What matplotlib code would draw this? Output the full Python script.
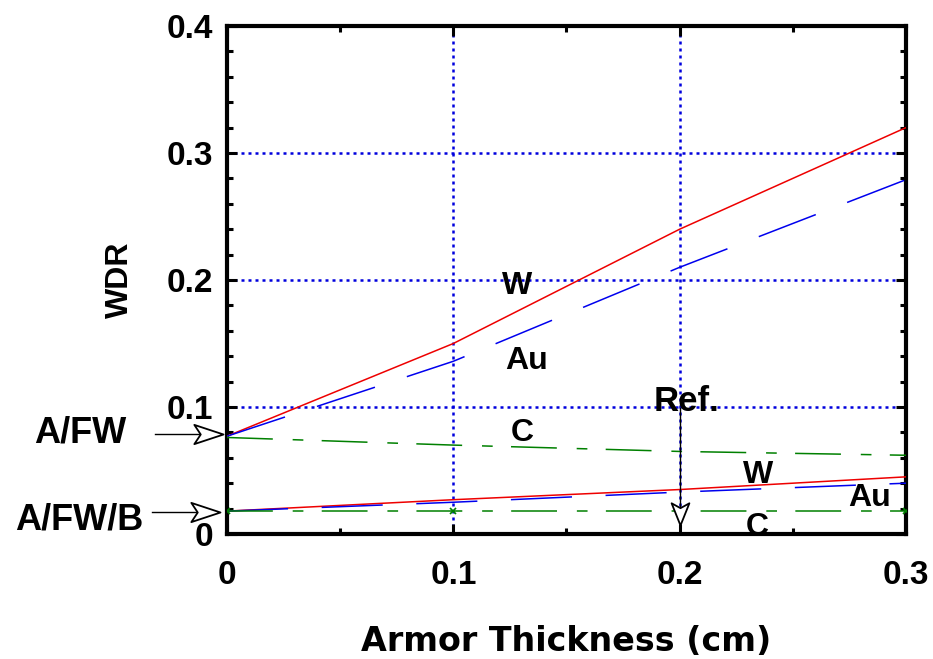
import matplotlib.pyplot as plt
from matplotlib.ticker import MultipleLocator
from matplotlib.path import Path

plt.rcParams['font.family'] = ['Liberation Sans', 'DejaVu Sans']
plt.rcParams['font.weight'] = 'bold'

thick = [0.0, 0.1, 0.2, 0.3]
# A/FW case
w_afw = [0.077, 0.150, 0.240, 0.320]
au_afw = [0.077, 0.136, 0.210, 0.279]
c_afw = [0.076, 0.070, 0.065, 0.062]
# A/FW/B case
w_afwb = [0.018, 0.027, 0.035, 0.045]
au_afwb = [0.018, 0.025, 0.033, 0.040]
c_afwb = [0.018, 0.018, 0.018, 0.018]

xticks = [0, 0.1, 0.2, 0.3]
xticklabels = ['0', '0.1', '0.2', '0.3']
yticks = [0, 0.1, 0.2, 0.3, 0.4]
yticklabels = ['0', '0.1', '0.2', '0.3', '0.4']

fig = plt.figure(figsize=(9.33, 6.59), dpi=100)
ax = fig.add_axes([0.2433, 0.1897, 0.7277, 0.7708])

# grid
for g in [0.1, 0.2]:
    ax.axvline(g, color='#0000dd', ls=(0, (1.2, 1.6)), lw=1.8, zorder=1)
for g in [0.1, 0.2, 0.3]:
    ax.axhline(g, color='#0000dd', ls=(0, (1.2, 1.6)), lw=1.8, zorder=1)

ax.plot(thick, w_afw, color='#ee0000', lw=1.1, zorder=3)
ax.plot(thick, au_afw, color='#0000ee', lw=1.1, dashes=(40, 22), zorder=3)
ax.plot(thick, c_afw, color='#008000', lw=1.1, dashes=(30, 13, 7, 12), zorder=3)
ax.plot(thick, w_afwb, color='#ee0000', lw=1.1, zorder=3)
ax.plot(thick, au_afwb, color='#0000ee', lw=1.1, dashes=(40, 22), zorder=3)
ax.plot(thick, c_afwb, color='#008000', lw=1.1, dashes=(30, 13, 7, 12),
        marker='x', ms=4, mew=1.2, zorder=3)

ax.set_xlim(0, 0.3)
ax.set_ylim(0, 0.4)
ax.set_xticks(xticks)
ax.set_xticklabels(xticklabels)
ax.set_yticks(yticks)
ax.set_yticklabels(yticklabels)
ax.xaxis.set_minor_locator(MultipleLocator(0.05))
ax.yaxis.set_minor_locator(MultipleLocator(0.02))
ax.tick_params(which='both', direction='in', top=True, right=True, width=2.2)
ax.tick_params(which='major', length=7, labelsize=24)
ax.tick_params(axis='y', which='major', pad=10)
ax.tick_params(axis='x', which='major', pad=19)
ax.tick_params(which='minor', length=4.5)
for s in ax.spines.values():
    s.set_linewidth(3)
for lab in ax.get_xticklabels() + ax.get_yticklabels():
    lab.set_fontweight('bold')

# the x title is drawn much wider than the rest of the text
ax.set_xlabel('Armor Thickness (cm)', fontsize=24, fontweight='bold',
              family='DejaVu Sans')
ax.set_ylabel('WDR', fontsize=23, fontweight='bold')
ax.xaxis.set_label_coords(0.5, -0.2126)
ax.xaxis.label.set_va('center')
ax.yaxis.set_label_coords(-0.1576, 0.5)
ax.yaxis.label.set_va('center')

# curve labels
fs = 23
ax.text(0.1281, 0.1949, 'W', fontsize=fs, ha='center', va='center')
ax.text(0.1325, 0.1362, 'Au', fontsize=fs, ha='center', va='center')
ax.text(0.1303, 0.0795, 'C', fontsize=fs, ha='center', va='center')
ax.text(0.2032, 0.1047, 'Ref.', fontsize=25, ha='center', va='center')
ax.text(0.2346, 0.0465, 'W', fontsize=fs, ha='center', va='center')
ax.text(0.2841, 0.0283, 'Au', fontsize=fs, ha='center', va='center')
ax.text(0.2342, 0.0055, 'C', fontsize=fs, ha='center', va='center', clip_on=False)

# notched open arrowheads, tip at the marker origin
right_head = Path([(0, 0), (-1, 0.33), (-0.78, 0), (-1, -0.33), (0, 0)],
                  [Path.MOVETO, Path.LINETO, Path.LINETO, Path.LINETO, Path.CLOSEPOLY])
down_head = Path([(0, 0), (-0.4, 1), (0, 0.78), (0.4, 1), (0, 0)],
                 [Path.MOVETO, Path.LINETO, Path.LINETO, Path.LINETO, Path.CLOSEPOLY])

ax.plot([-0.032, -0.010], [0.0787, 0.0787], color='black', lw=1.0, clip_on=False, zorder=4)
ax.plot([-0.0018], [0.0787], marker=right_head, ms=42, mfc='white', mec='black',
        mew=1.3, clip_on=False, zorder=5)
ax.plot([-0.0333, -0.012], [0.0173, 0.0173], color='black', lw=1.0, clip_on=False, zorder=4)
ax.plot([-0.003], [0.0173], marker=right_head, ms=42, mfc='white', mec='black',
        mew=1.3, clip_on=False, zorder=5)
ax.plot([0.2, 0.2], [0.099, 0.02], color='black', lw=1.0, zorder=4)
ax.plot([0.2], [0.007], marker=down_head, ms=32, mfc='white', mec='black',
        mew=1.3, clip_on=False, zorder=5)

ax.text(-0.065, 0.0795, 'A/FW', fontsize=26, ha='center', va='center', clip_on=False)
ax.text(-0.0654, 0.0114, 'A/FW/B', fontsize=26, ha='center', va='center', clip_on=False)

fig.savefig('out.png', dpi=100)
